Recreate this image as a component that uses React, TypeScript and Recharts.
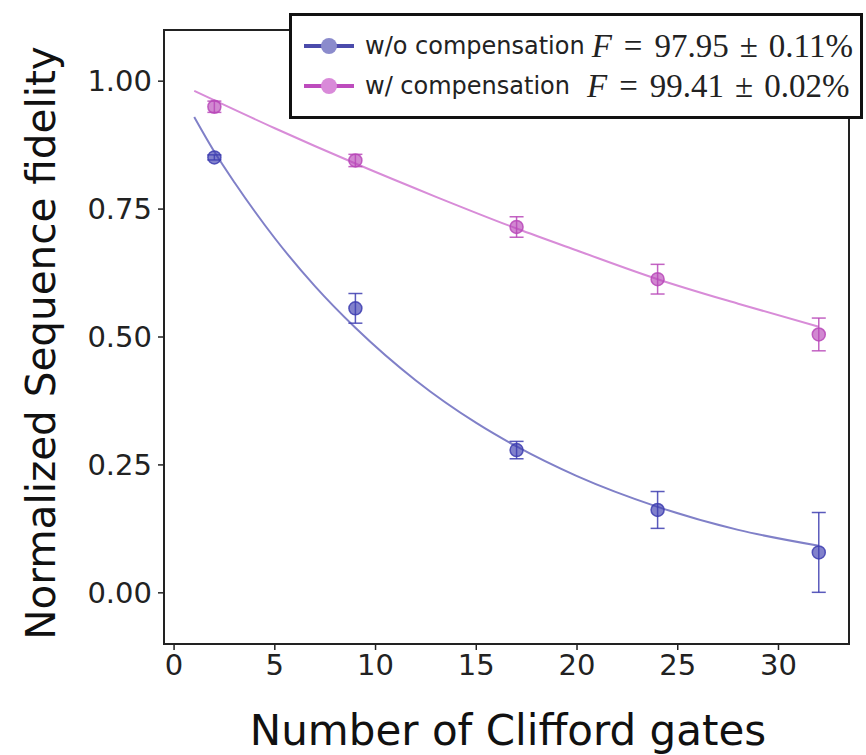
import React from 'react';
import { ComposedChart, Scatter, Line, XAxis, YAxis, ErrorBar, ReferenceArea, Legend, Label } from 'recharts';

const gatesWithout = [2, 9, 17, 24, 32];
const fidelityWithout = [0.851, 0.556, 0.279, 0.162, 0.079];
const errorWithout = [0.005, 0.029, 0.017, 0.036, 0.078];

const gatesWith = [2, 9, 17, 24, 32];
const fidelityWith = [0.95, 0.845, 0.715, 0.613, 0.505];
const errorWith = [0.011, 0.012, 0.02, 0.029, 0.032];

// Fit curves
const fitWithoutX = [1, 2, 3, 5, 7, 9, 12, 15, 17, 20, 24, 28, 32];
const fitWithoutY = [0.93, 0.862, 0.802, 0.693, 0.599, 0.518, 0.415, 0.332, 0.286, 0.228, 0.168, 0.123, 0.092];
const fitWithX = [1, 5, 9, 13, 17, 20, 24, 28, 32];
const fitWithY = [0.981, 0.908, 0.839, 0.774, 0.712, 0.669, 0.613, 0.565, 0.52];

const xTicks = [0, 5, 10, 15, 20, 25, 30];
const yTicks = [0, 0.25, 0.5, 0.75, 1];

const seriesNames = ['w/o compensation', 'w/ compensation'];
const fidelityValues = ['97.95', '99.41'];
const fidelityErrors = ['0.11', '0.02'];

const xLabel = 'Number of Clifford gates';
const yLabel = 'Normalized Sequence fidelity';

const BLUE = '#3d3db0';
const PURPLE = '#b848b8';
const BLUE_FIT = '#8080c8';
const PURPLE_FIT = '#d88cd8';

const withoutData = gatesWithout.map((x, i) => ({ x, y: fidelityWithout[i], err: errorWithout[i] }));
const withData = gatesWith.map((x, i) => ({ x, y: fidelityWith[i], err: errorWith[i] }));
const fitWithout = fitWithoutX.map((x, i) => ({ x, y: fitWithoutY[i] }));
const fitWith = fitWithX.map((x, i) => ({ x, y: fitWithY[i] }));

const makeDot = (color: string) => (props: any) => {
  const { cx, cy } = props;
  if (cx == null || cy == null) return <g />;
  return (
    <circle cx={cx} cy={cy} r={6.5} fill={color} fillOpacity={0.65} stroke={color} strokeOpacity={0.85} strokeWidth={1.5} />
  );
};

const legendItems = [
  { name: seriesNames[0], value: fidelityValues[0], err: fidelityErrors[0], line: '#4b4bab', dot: '#8b8bcc', gap: 7 },
  { name: seriesNames[1], value: fidelityValues[1], err: fidelityErrors[1], line: '#bd4cbd', dot: '#d98ad9', gap: 17 },
];

const LegendBox = () => (
  <div
    style={{
      boxSizing: 'border-box',
      width: 574,
      height: 106,
      border: '3px solid #111',
      background: '#fff',
      paddingTop: 10,
      paddingLeft: 11,
    }}
  >
    {legendItems.map((it, i) => (
      <div key={i} style={{ display: 'flex', alignItems: 'center', height: 40, whiteSpace: 'nowrap' }}>
        <svg width={52} height={20} style={{ flex: 'none' }}>
          <line x1={1} y1={10} x2={51} y2={10} stroke={it.line} strokeWidth={4} />
          <circle cx={26} cy={10} r={8} fill={it.dot} />
        </svg>
        <span style={{ marginLeft: 10, fontFamily: 'DejaVu Sans', fontSize: 24, color: '#222' }}>{it.name}</span>
        <span style={{ marginLeft: it.gap, fontFamily: 'Liberation Serif', fontSize: 33, color: '#222' }}>
          <i>F</i>
          <span style={{ margin: '0 12px' }}>=</span>
          {it.value}
          <span style={{ margin: '0 11px' }}>±</span>
          {it.err}%
        </span>
      </div>
    ))}
  </div>
);

const tickStyle = { fontSize: 29, fill: '#222', fontFamily: 'DejaVu Sans' };

export default function App() {
  return (
    <div style={{ position: 'absolute', left: 0, top: 0, width: 866, height: 755, background: '#fff' }}>
      <ComposedChart width={866} height={755} margin={{ top: 30, right: 17, bottom: 61, left: 84 }}>
        <XAxis
          type="number"
          dataKey="x"
          domain={[-0.5, 33.5]}
          ticks={xTicks}
          allowDataOverflow
          height={50}
          tickSize={6}
          tickMargin={4}
          tick={tickStyle}
          axisLine={{ stroke: '#222', strokeWidth: 2 }}
          tickLine={{ stroke: '#222', strokeWidth: 1.5 }}
        >
          <Label
            content={() => (
              <text x={508} y={745} textAnchor="middle" fontSize={42} fontFamily="DejaVu Sans" fill="#111">
                {xLabel}
              </text>
            )}
          />
        </XAxis>
        <YAxis
          type="number"
          dataKey="y"
          domain={[-0.1, 1.1]}
          ticks={yTicks}
          allowDataOverflow
          width={80}
          tickSize={6}
          tickMargin={6}
          tick={tickStyle}
          tickFormatter={(v: number) => v.toFixed(2)}
          axisLine={{ stroke: '#222', strokeWidth: 2 }}
          tickLine={{ stroke: '#222', strokeWidth: 1.5 }}
        >
          <Label
            content={() => (
              <text
                x={55}
                y={343}
                transform="rotate(-90, 55, 343)"
                textAnchor="middle"
                fontSize={40.5}
                fontFamily="DejaVu Sans"
                fill="#111"
              >
                {yLabel}
              </text>
            )}
          />
        </YAxis>
        <ReferenceArea x1={-0.5} x2={33.5} y1={-0.1} y2={1.1} fill="none" stroke="#222" strokeWidth={2} ifOverflow="visible" />
        <Line data={fitWithout} dataKey="y" type="monotone" stroke={BLUE_FIT} strokeWidth={2} dot={false} isAnimationActive={false} legendType="none" />
        <Line data={fitWith} dataKey="y" type="monotone" stroke={PURPLE_FIT} strokeWidth={2} dot={false} isAnimationActive={false} legendType="none" />
        <Scatter data={withoutData} dataKey="y" fill={BLUE} shape={makeDot(BLUE)} isAnimationActive={false}>
          <ErrorBar dataKey="err" direction="y" width={7} stroke={BLUE} strokeWidth={1.5} strokeOpacity={0.85} isAnimationActive={false} />
        </Scatter>
        <Scatter data={withData} dataKey="y" fill={PURPLE} shape={makeDot(PURPLE)} isAnimationActive={false}>
          <ErrorBar dataKey="err" direction="y" width={7} stroke={PURPLE} strokeWidth={1.5} strokeOpacity={0.85} isAnimationActive={false} />
        </Scatter>
        <Legend
          layout="horizontal"
          verticalAlign="middle"
          align="center"
          content={() => <LegendBox />}
          wrapperStyle={{ position: 'absolute', left: 289, top: 13, width: 574, height: 106 }}
        />
      </ComposedChart>
    </div>
  );
}
